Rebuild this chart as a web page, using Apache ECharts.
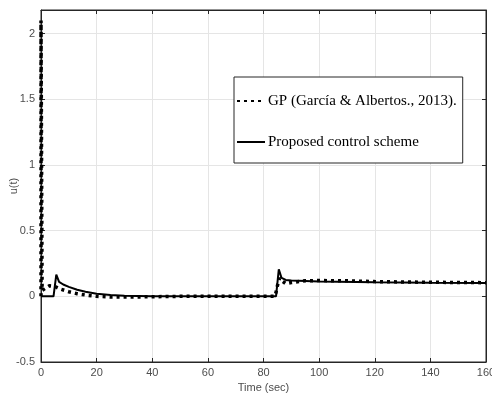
<!DOCTYPE html>
<html>
<head>
<meta charset="UTF-8">
<title>u(t) comparison</title>
<style>
  html, body { margin: 0; padding: 0; background: #fff; }
  #chart { width: 492px; height: 394px; }
</style>
<script src="https://cdn.jsdelivr.net/npm/echarts@6/dist/echarts.min.js"></script>
</head>
<body>
<div id="chart"></div>
<script>
// GP (García & Albertos, 2013) control signal, [time, u]
const gpData = [
  [0, 0], [0, 2.1], [0.4, 0.045], [1.5, 0.06], [3, 0.08], [5, 0.075], [7, 0.055],
  [10, 0.035], [13, 0.02], [16, 0.01], [20, 0.0], [25, -0.005], [30, -0.006],
  [40, -0.003], [50, 0], [84, 0], [84.5, 0.03], [85, 0.08], [85.8, 0.14],
  [86.5, 0.12], [88, 0.097], [90, 0.105], [95, 0.118], [100, 0.12],
  [110, 0.118], [120, 0.112], [140, 0.107], [160, 0.104]
];
// proposed control scheme, [time, u]
const proposedData = [
  [0, 0], [4.5, 0], [5.5, 0.165], [6.5, 0.11], [8, 0.09], [10, 0.072],
  [13, 0.05], [16, 0.035], [20, 0.02], [25, 0.01], [30, 0.004], [40, 0],
  [84.5, 0], [85.5, 0.205], [86.5, 0.14], [88, 0.125], [90, 0.12],
  [100, 0.113], [120, 0.108], [140, 0.104], [160, 0.102]
];
const seriesNames = ['GP (García & Albertos., 2013).', 'Proposed control scheme'];

const axisColor = '#262626';
const labelColor = '#4d4d4d';
const gridColor = '#e5e5e5';

const chart = echarts.init(document.getElementById('chart'));
chart.setOption({
  animation: false,
  backgroundColor: '#fff',
  grid: {
    left: 41, right: 6, top: 10, bottom: 32,
    outerBoundsMode: 'none', containLabel: false,
    show: true, borderColor: axisColor, borderWidth: 1
  },
  legend: {
    orient: 'vertical',
    left: 234, top: 77,
    width: 236,
    backgroundColor: '#fff',
    borderColor: axisColor, borderWidth: 1,
    padding: [15, 6, 12, 2],
    itemGap: 23,
    itemWidth: 28, itemHeight: 14,
    itemStyle: { opacity: 0 },
    textStyle: { fontFamily: 'Liberation Serif', fontSize: 15, color: '#000', lineHeight: 18, padding: [0, 0, 0, -2] },
    data: seriesNames
  },
  xAxis: [{
    type: 'value', min: 0, max: 160, interval: 20,
    name: 'Time (sec)', nameLocation: 'middle', nameGap: 17,
    nameTextStyle: { fontFamily: 'Liberation Sans', fontSize: 11, color: labelColor },
    axisLine: { onZero: false, lineStyle: { color: axisColor } },
    axisTick: { inside: true, length: 4, lineStyle: { color: axisColor } },
    axisLabel: { margin: 5, fontFamily: 'Liberation Sans', fontSize: 11, color: labelColor },
    splitLine: { show: true, lineStyle: { color: gridColor } }
  }, {
    type: 'value', min: 0, max: 160, interval: 20, position: 'top',
    axisLine: { onZero: false, lineStyle: { color: axisColor } },
    axisTick: { inside: true, length: 4, lineStyle: { color: axisColor } },
    axisLabel: { show: false }, splitLine: { show: false }
  }],
  yAxis: [{
    type: 'value', min: -0.5, max: 2.18, interval: 0.5,
    name: 'u(t)', nameLocation: 'middle', nameGap: 22, nameMoveOverlap: false,
    nameTextStyle: { fontFamily: 'Liberation Sans', fontSize: 11, color: labelColor },
    axisLine: { show: true, onZero: false, lineStyle: { color: axisColor } },
    axisTick: { show: true, inside: true, length: 4, lineStyle: { color: axisColor } },
    axisLabel: { margin: 6, showMaxLabel: false, fontFamily: 'Liberation Sans', fontSize: 11, color: labelColor },
    splitLine: { show: true, lineStyle: { color: gridColor } }
  }, {
    type: 'value', min: -0.5, max: 2.18, interval: 0.5, position: 'right',
    axisLine: { show: true, onZero: false, lineStyle: { color: axisColor } },
    axisTick: { show: true, inside: true, length: 4, lineStyle: { color: axisColor } },
    axisLabel: { show: false }, splitLine: { show: false }
  }],
  series: [{
    name: seriesNames[0],
    type: 'line',
    data: gpData,
    symbol: 'none',
    z: 3,
    lineStyle: { color: '#000', width: 3.5, type: [3, 4] },
    itemStyle: { color: '#000' }
  }, {
    name: seriesNames[1],
    type: 'line',
    data: proposedData,
    symbol: 'none',
    z: 2,
    lineStyle: { color: '#000', width: 2 },
    itemStyle: { color: '#000' }
  }]
});
</script>
</body>
</html>
